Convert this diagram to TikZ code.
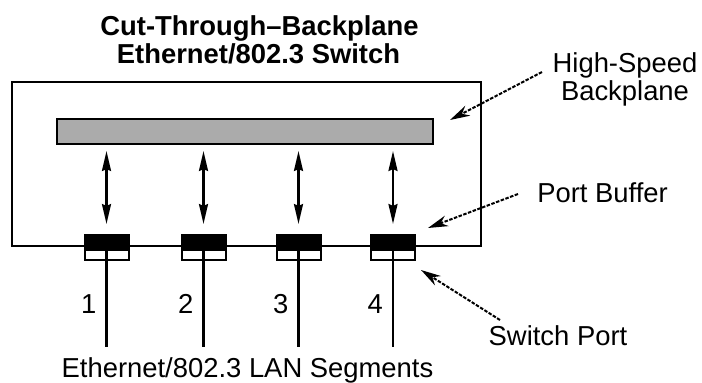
\documentclass[tikz,border=0pt]{standalone}
\usepackage{fontspec}
\setmainfont{Liberation Sans}
\usetikzlibrary{arrows.meta}
\begin{document}
\begin{tikzpicture}[x=1pt,y=-1pt,
  lbl/.style={font=\fontsize{27.4}{30}\selectfont, inner sep=0pt, anchor=base},
  ttl/.style={font=\fontsize{27.4}{30}\selectfont\bfseries, inner sep=0pt, anchor=base},
  frame/.style={draw=black, line width=2.4pt},
  bp/.style={draw=black, line width=2.6pt, fill=black!33},
  buf/.style={draw=black, line width=2pt, fill=black},
  sp/.style={draw=black, line width=2pt, fill=white},
  wire/.style={line width=2.4pt},
  dbl/.style={line width=2.4pt, {Stealth[length=20pt,width=9pt,inset=2pt]}-{Stealth[length=20pt,width=9pt,inset=2pt]}},
  callout/.style={line width=2pt, dash pattern=on 3.5pt off 1.5pt, -{Stealth[length=20pt,width=11pt]}}
]
\useasboundingbox (0,0) rectangle (702,383);
% title
\node[ttl] (t1) at (259.5,35) {Cut-Through--Backplane};
\node[ttl] (t2) at (258.5,63) {Ethernet/802.3 Switch};
% switch box
\draw[frame] (12,82) rectangle (481,246);
\draw[bp] (57,119) rectangle (433,144);
% ports
\foreach \i/\x in {1/106.5,2/203.5,3/298.5,4/393}{
  \draw[sp] (\x-22,250) rectangle (\x+22,260);
  \draw[buf] (\x-22,235) rectangle (\x+22,250);
  \coordinate (pt\i) at (\x,250);
  \coordinate (end\i) at (\x,347);
  \draw[wire] (pt\i) -- (end\i);
  \coordinate (up\i) at (\x,151);
  \coordinate (dn\i) at (\x,224);
  \draw[dbl] (up\i) -- (dn\i);
  \node[lbl, anchor=base east] (n\i) at (\x-10,313) {\i};
}
% bottom label
\node[lbl] (seg) at (247.5,377) {Ethernet/802.3 LAN Segments};
% callouts
\node[lbl] (hs1) at (625,72) {High-Speed};
\node[lbl] (hs2) at (625,100) {Backplane};
\node[lbl] (pb) at (602.5,202) {Port Buffer};
\node[lbl] (swp) at (558,345) {Switch Port};
\coordinate (hsT) at (542,72);
\coordinate (hsH) at (450,120);
\coordinate (pbT) at (518,194);
\coordinate (pbH) at (428,228);
\coordinate (swT) at (500,320);
\coordinate (swH) at (421,270);
\draw[callout] (hsT) -- (hsH);
\draw[callout] (pbT) -- (pbH);
\draw[callout] (swT) -- (swH);
\end{tikzpicture}
\end{document}
